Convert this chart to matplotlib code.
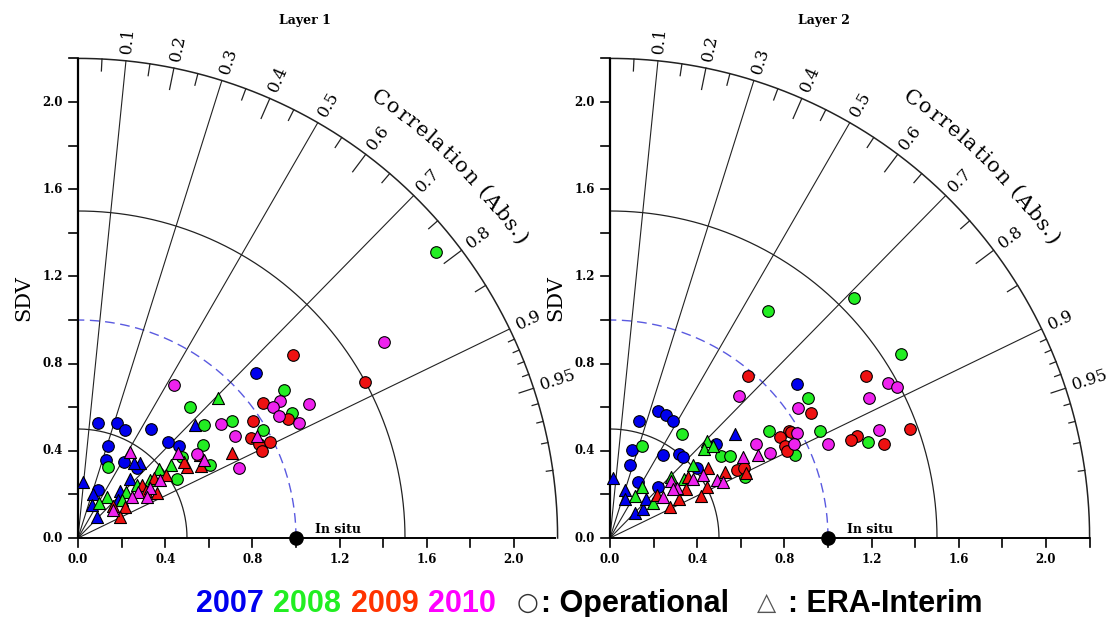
"""
Taylor diagrams of soil-moisture SDV vs correlation, two layers,
coloured by year, circles = operational, triangles = ERA-Interim.
"""
import numpy as np
import matplotlib

matplotlib.use("Agg")
import matplotlib.pyplot as plt
from matplotlib.font_manager import FontProperties

# ---- data: (SDV*corr, SDV*sqrt(1-corr^2)) ----
L1_OP_2007 = [(0.093, 0.526), (0.177, 0.529), (0.216, 0.495), (0.333, 0.500), (0.139, 0.424),
              (0.127, 0.358), (0.212, 0.350), (0.414, 0.439), (0.462, 0.424), (0.272, 0.319),
              (0.093, 0.220), (0.817, 0.755)]
L1_ERA_2007 = [(0.021, 0.258), (0.284, 0.346), (0.257, 0.343), (0.239, 0.269), (0.070, 0.202),
               (0.063, 0.151), (0.086, 0.098), (0.193, 0.217), (0.185, 0.174), (0.537, 0.518)]
L1_OP_2008 = [(0.514, 0.602), (0.578, 0.518), (0.575, 0.427), (0.139, 0.327), (0.453, 0.271),
              (0.606, 0.335), (0.476, 0.370), (0.946, 0.680), (0.708, 0.535), (0.847, 0.497),
              (0.980, 0.572), (1.642, 1.311)]
L1_ERA_2008 = [(0.372, 0.317), (0.427, 0.335), (0.132, 0.190), (0.098, 0.162), (0.218, 0.212),
               (0.269, 0.242), (0.330, 0.266), (0.200, 0.174), (0.644, 0.641)]
L1_OP_2009 = [(0.988, 0.839), (1.317, 0.717), (0.847, 0.621), (0.965, 0.545), (0.804, 0.535),
              (0.795, 0.457), (0.832, 0.431), (0.881, 0.442), (0.843, 0.401)]
L1_ERA_2009 = [(0.500, 0.327), (0.485, 0.350), (0.564, 0.330), (0.404, 0.289), (0.350, 0.274),
               (0.292, 0.242), (0.361, 0.205), (0.162, 0.147), (0.216, 0.144), (0.193, 0.098),
               (0.560, 0.382), (0.705, 0.388), (0.310, 0.215)]
L1_OP_2010 = [(0.440, 0.703), (0.656, 0.521), (0.720, 0.468), (0.739, 0.321), (0.927, 0.630),
              (0.893, 0.600), (0.924, 0.560), (1.015, 0.529), (1.061, 0.615), (1.405, 0.901),
              (0.547, 0.385)]
L1_ERA_2010 = [(0.239, 0.396), (0.460, 0.388), (0.578, 0.358), (0.376, 0.266), (0.330, 0.229),
               (0.276, 0.212), (0.246, 0.190), (0.315, 0.190), (0.162, 0.128), (0.820, 0.467)]

L2_OP_2007 = [(0.134, 0.537), (0.218, 0.583), (0.255, 0.564), (0.291, 0.538), (0.099, 0.404),
              (0.092, 0.335), (0.130, 0.259), (0.245, 0.381), (0.316, 0.385), (0.336, 0.372),
              (0.486, 0.431), (0.398, 0.320), (0.859, 0.705), (0.222, 0.235)]
L2_ERA_2007 = [(0.012, 0.274), (0.069, 0.220), (0.069, 0.177), (0.115, 0.116), (0.150, 0.131),
               (0.165, 0.177), (0.573, 0.475)]
L2_OP_2008 = [(0.329, 0.475), (0.148, 0.422), (0.508, 0.377), (0.551, 0.377), (0.731, 0.492),
              (0.910, 0.641), (0.963, 0.489), (0.849, 0.383), (0.619, 0.281), (0.726, 1.041),
              (1.119, 1.099), (1.335, 0.844), (1.185, 0.439)]
L2_ERA_2008 = [(0.148, 0.235), (0.115, 0.193), (0.196, 0.162), (0.444, 0.445), (0.431, 0.410),
               (0.471, 0.420), (0.379, 0.335), (0.339, 0.269), (0.281, 0.281)]
L2_OP_2009 = [(0.634, 0.743), (0.924, 0.575), (0.823, 0.489), (0.780, 0.463), (0.803, 0.420),
              (0.810, 0.401), (0.581, 0.314), (0.615, 0.319), (1.173, 0.743), (1.376, 0.500),
              (1.131, 0.470), (1.104, 0.449), (1.259, 0.430), (0.828, 0.484)]
L2_ERA_2009 = [(0.451, 0.319), (0.528, 0.304), (0.624, 0.299), (0.443, 0.235), (0.416, 0.193),
               (0.359, 0.281), (0.349, 0.223), (0.318, 0.177), (0.275, 0.141), (0.214, 0.197)]
L2_OP_2010 = [(0.594, 0.650), (0.864, 0.595), (0.856, 0.480), (0.844, 0.433), (0.670, 0.433),
              (0.734, 0.391), (1.001, 0.433), (1.277, 0.713), (1.318, 0.691), (1.188, 0.644),
              (1.234, 0.495)]
L2_ERA_2010 = [(0.609, 0.372), (0.681, 0.380), (0.281, 0.263), (0.309, 0.228), (0.242, 0.186),
               (0.382, 0.269), (0.427, 0.289), (0.489, 0.266), (0.520, 0.259), (0.287, 0.223)]

YEARS = ["2007", "2008", "2009", "2010"]
MARK_COLORS = ["#0000ee", "#22ee22", "#ee1111", "#ee22ee"]
TEXT_COLORS = ["#0000ee", "#22ee22", "#ff3300", "#ff00ff"]

CORR_LINES = [0.1, 0.3, 0.5, 0.7, 0.9]
CORR_LABELS = [0.1, 0.2, 0.3, 0.4, 0.5, 0.6, 0.7, 0.8, 0.9, 0.95]
SDV_TICKS = [0.0, 0.4, 0.8, 1.2, 1.6, 2.0]

W, H = 1113, 617
S = 218.0      # pixels per SDV unit
RMAX = 2.2
LINE = "#222222"
SERIF = "DejaVu Serif"

fig = plt.figure(figsize=(W / 100, H / 100), dpi=100)
fig.patch.set_facecolor("white")


def arc(ax, r, **kw):
    th = np.linspace(0, np.pi / 2, 300)
    ax.plot(r * np.cos(th), r * np.sin(th), clip_on=False, **kw)


def curved_text(ax, s, r, a0, a1, size):
    # lay the characters along an arc from angle a0 to a1 (degrees)
    fp = FontProperties(family=SERIF, size=size)
    rend = fig.canvas.get_renderer()
    wid = [rend.get_text_width_height_descent(s[:i], fp, ismath=False)[0] for i in range(len(s) + 1)]
    total = wid[-1]
    for i, ch in enumerate(s):
        frac = 0.5 * (wid[i] + wid[i + 1]) / total
        a = np.deg2rad(a0 + (a1 - a0) * frac)
        ax.text(r * np.cos(a), r * np.sin(a), ch, fontproperties=fp,
                rotation=np.rad2deg(a) - 90, rotation_mode="anchor",
                ha="center", va="baseline")


def panel(x0, w, ox, title, series, title_x, sdv_x):
    oy = 538
    ax = fig.add_axes([x0 / W, 0, w / W, 1])
    ax.set_xlim((x0 - ox) / S, (x0 + w - ox) / S)
    ax.set_ylim(-(H - oy) / S, oy / S)
    ax.axis("off")

    # std arcs
    arc(ax, 0.5, color=LINE, lw=0.9)
    arc(ax, 1.5, color=LINE, lw=0.9)
    arc(ax, RMAX, color=LINE, lw=1.1)
    arc(ax, 1.0, color="#5a5ae0", lw=1.0, dashes=(7, 4))

    # correlation rays
    for c in CORR_LINES:
        a = np.arccos(c)
        ax.plot([0, RMAX * np.cos(a)], [0, RMAX * np.sin(a)], color=LINE, lw=0.8)

    # ticks on the outer arc
    for k in range(1, 18):
        c = k * 0.05
        if round(c, 2) in CORR_LINES:
            continue
        ln = 0.10 if k % 4 == 0 else 0.055
        a = np.arccos(c)
        ax.plot([(RMAX - ln) * np.cos(a), RMAX * np.cos(a)],
                [(RMAX - ln) * np.sin(a), RMAX * np.sin(a)], color=LINE, lw=0.9)
    for k in range(91, 100):
        ln = 0.07 if k == 95 else 0.03
        a = np.arccos(k / 100)
        ax.plot([(RMAX - ln) * np.cos(a), RMAX * np.cos(a)],
                [(RMAX - ln) * np.sin(a), RMAX * np.sin(a)], color=LINE, lw=0.9)

    for c in CORR_LABELS:
        a = np.arccos(c)
        ax.text(2.235 * np.cos(a), 2.235 * np.sin(a), f"{c:g}", family=SERIF, fontsize=12,
                rotation=np.rad2deg(a), rotation_mode="anchor", ha="left", va="center")
    curved_text(ax, "Correlation (Abs.)", 2.42, 56.5, 33.5, 15)

    # axes
    ax.plot([0, 0], [0, RMAX], color="k", lw=1.6, solid_capstyle="butt")
    ax.plot([0, RMAX], [0, 0], color="k", lw=1.4, solid_capstyle="butt")
    for k in range(12):
        v = k * 0.2
        ax.plot([-0.042, 0], [v, v], color="k", lw=1.2)
        ax.plot([v, v], [-0.042, 0], color="k", lw=1.2)
    for v in SDV_TICKS:
        ax.text(-0.07, v, f"{v:.1f}", family=SERIF, weight="bold", fontsize=8.5,
                ha="right", va="center")
        ax.text(v, -0.10, f"{v:.1f}", family=SERIF, weight="bold", fontsize=8.5,
                ha="center", va="center")

    ax.text(sdv_x, 1.10, "SDV", family=SERIF, fontsize=15, rotation=90,
            ha="center", va="center")
    ax.text(title_x, 2.376, title, family=SERIF, weight="bold", fontsize=9,
            ha="center", va="center")

    # points
    for yi, (op, era) in enumerate(series):
        ox_, oy_ = zip(*op)
        ax.scatter(ox_, oy_, s=70, marker="o", color=MARK_COLORS[yi],
                   edgecolor="k", linewidth=0.8, zorder=4, clip_on=False)
        ex, ey = zip(*era)
        ax.scatter(ex, ey, s=75, marker="^", color=MARK_COLORS[yi],
                   edgecolor="k", linewidth=0.8, zorder=4, clip_on=False)

    ax.plot(1.0, 0, "o", color="k", ms=9.5, zorder=6, clip_on=False)
    ax.text(1.087, 0.025, "In situ", family=SERIF, weight="bold", fontsize=9,
            ha="left", va="baseline")
    return ax


panel(0, 556, 78, "Layer 1",
      [(L1_OP_2007, L1_ERA_2007), (L1_OP_2008, L1_ERA_2008),
       (L1_OP_2009, L1_ERA_2009), (L1_OP_2010, L1_ERA_2010)], 1.04, -0.25)
panel(556, 557, 610, "Layer 2",
      [(L2_OP_2007, L2_ERA_2007), (L2_OP_2008, L2_ERA_2008),
       (L2_OP_2009, L2_ERA_2009), (L2_OP_2010, L2_ERA_2010)], 0.98, -0.25)

# ---- legend line ----
base = (H - 612) / H
for x, yr, col in zip([196, 273, 351, 428], YEARS, TEXT_COLORS):
    fig.text(x / W, base, yr, color=col, fontsize=22, weight="bold",
             family="Liberation Sans", va="baseline")
fig.text(517 / W, base + 0.004, "\u25cb", color="#333333", fontsize=18,
         family="DejaVu Sans", va="baseline")
fig.text(541 / W, base, ": Operational", color="k", fontsize=22, weight="bold",
         family="Liberation Sans", va="baseline")
fig.text(757 / W, base + 0.004, "\u25b3", color="#555555", fontsize=18,
         family="DejaVu Sans", va="baseline")
fig.text(788 / W, base, ": ERA-Interim", color="k", fontsize=22, weight="bold",
         family="Liberation Sans", va="baseline")

fig.savefig("out.png", dpi=100, facecolor="white")
